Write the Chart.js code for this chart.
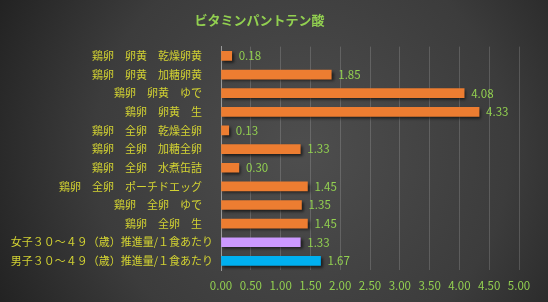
<!DOCTYPE html>
<html>
<head>
<meta charset="utf-8">
<script src="https://cdn.jsdelivr.net/npm/chart.js@4/dist/chart.umd.min.js"></script>
<style>
  html, body { margin: 0; padding: 0; background: #2b2b2b; }
  #wrap { width: 548px; height: 302px; position: relative; }
</style>
</head>
<body>
<div id="wrap"><canvas id="chart-pantothenic"></canvas></div>
<script>
// DATA //
const categories = [
    '鶏卵　卵黄　乾燥卵黄　',
    '鶏卵　卵黄　加糖卵黄　',
    '鶏卵　卵黄　ゆで　',
    '鶏卵　卵黄　生　',
    '鶏卵　全卵　乾燥全卵　',
    '鶏卵　全卵　加糖全卵　',
    '鶏卵　全卵　水煮缶詰　',
    '鶏卵　全卵　ポーチドエッグ　',
    '鶏卵　全卵　ゆで　',
    '鶏卵　全卵　生　',
    '女子３０～４９（歳）推進量/１食あたり',
    '男子３０～４９（歳）推進量/１食あたり'
]
const values = [0.18, 1.85, 4.08, 4.33, 0.13, 1.33, 0.30, 1.45, 1.35, 1.45, 1.33, 1.67]
const barColors = [
    '#ED7D31', '#ED7D31', '#ED7D31', '#ED7D31', '#ED7D31',
    '#ED7D31', '#ED7D31', '#ED7D31', '#ED7D31', '#ED7D31',
    '#CC99FF', '#00B0F0'
]
const xTicks = [0, 0.5, 1, 1.5, 2, 2.5, 3, 3.5, 4, 4.5, 5]
const chartTitle = 'ビタミンパントテン酸'

const jpFont = '"Noto Sans CJK JP", "Noto Sans", sans-serif'

// FUNDO //
const backgroundPlugin = {
    id: 'bgGradient',
    beforeDraw(chart) {
        const ctx = chart.ctx
        const w = chart.width, h = chart.height
        const g = ctx.createRadialGradient(w * 0.55, h * 0.5, 10, w * 0.55, h * 0.5, w * 0.62)
        g.addColorStop(0, '#4d4d4d')
        g.addColorStop(0.6, '#3c3c3c')
        g.addColorStop(1, '#222222')
        ctx.save()
        ctx.fillStyle = g
        ctx.fillRect(0, 0, w, h)
        ctx.restore()
    }
}

// SOMBRA DAS BARRAS //
const shadowPlugin = {
    id: 'barShadow',
    beforeDatasetsDraw(chart) {
        const ctx = chart.ctx
        ctx.save()
        ctx.shadowColor = 'rgba(0,0,0,0.6)'
        ctx.shadowBlur = 3
        ctx.shadowOffsetX = 2
        ctx.shadowOffsetY = 2
    },
    afterDatasetsDraw(chart) {
        chart.ctx.restore()
    }
}

// RÓTULOS DE VALOR //
const valueLabelPlugin = {
    id: 'valueLabels',
    afterDatasetsDraw(chart) {
        const ctx = chart.ctx
        const meta = chart.getDatasetMeta(0)
        ctx.save()
        ctx.font = '11.5px ' + jpFont
        ctx.fillStyle = '#92D050'
        ctx.textAlign = 'left'
        ctx.textBaseline = 'middle'
        meta.data.forEach((bar, i) => {
            ctx.fillText(values[i].toFixed(2), bar.x + 7, bar.y)
        })
        ctx.restore()
    }
}

const ctxChart = document.getElementById('chart-pantothenic').getContext('2d')

new Chart(ctxChart, {
    type: 'bar',
    data: {
        labels: categories,
        datasets: [{
            data: values,
            backgroundColor: barColors,
            barThickness: 9,
            borderWidth: 0
        }]
    },
    options: {
        indexAxis: 'y',
        responsive: true,
        maintainAspectRatio: false,
        animation: false,
        layout: {
            padding: { left: 0, right: 29, top: 0, bottom: 0 }
        },
        scales: {
            x: {
                min: 0,
                max: 5,
                afterBuildTicks(scale) {
                    scale.ticks = xTicks.map(v => ({ value: v }))
                },
                grid: {
                    color: 'rgba(255,255,255,0.16)',
                    lineWidth: 1,
                    drawTicks: false
                },
                border: { display: false },
                ticks: {
                    color: '#92D050',
                    padding: 9,
                    font: { size: 11.5, family: jpFont },
                    callback: v => Number(v).toFixed(2)
                }
            },
            y: {
                afterFit(scale) { scale.width = 221 },
                grid: { display: false },
                border: { display: true, color: '#9a9a9a', width: 1 },
                ticks: {
                    color: '#D2D232',
                    padding: 0,
                    autoSkip: false,
                    font: { size: 11, family: jpFont }
                }
            }
        },
        plugins: {
            legend: { display: false },
            tooltip: { enabled: false },
            title: {
                display: true,
                text: chartTitle,
                color: '#92D050',
                font: { size: 13, weight: 'bold', family: jpFont },
                padding: { top: 12, bottom: 19 }
            }
        }
    },
    plugins: [backgroundPlugin, shadowPlugin, valueLabelPlugin]
})
</script>
</body>
</html>
